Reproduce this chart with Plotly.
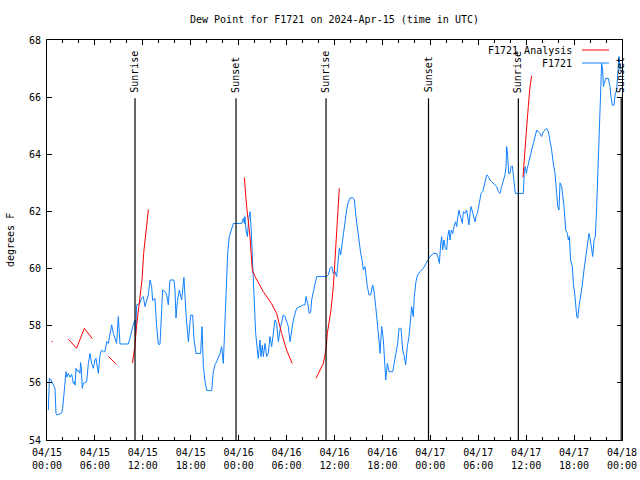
import pandas as pd
import plotly.graph_objects as go

BASE = pd.Timestamp("2024-04-15 00:00")

# Observed dew point (F1721): hours after 2024-04-15 00:00 UTC, degrees F
obs_hours = [0.17, 0.3, 0.5, 0.79, 1.0, 1.13, 1.21, 1.5, 1.84, 1.96, 2.13, 2.38, 2.5, 2.67, 2.88, 3.09, 3.3, 3.45,
             3.51, 3.63, 3.8, 3.92, 4.13, 4.21, 4.3, 4.42, 4.55, 4.97, 5.18, 5.38, 5.59, 5.8, 6.01, 6.13, 6.43, 6.64,
             6.84, 7.05, 7.26, 7.47, 7.68, 7.89, 8.1, 8.31, 8.52, 8.72, 8.93, 9.14, 9.6, 10.18, 10.39, 10.73, 11.02,
             11.1, 11.23, 11.64, 11.85, 12.06, 12.27, 12.48, 12.69, 12.9, 13.1, 13.23, 13.52, 13.73, 13.94, 14.15,
             14.36, 14.48, 14.78, 14.99, 15.19, 15.4, 15.9, 16.03, 16.15, 16.32, 16.57, 16.86, 17.15, 17.4, 17.7,
             17.99, 18.24, 18.41, 18.66, 19.24, 19.41, 19.58, 19.79, 20.0, 20.62, 20.83, 21.04, 21.25, 21.66, 21.87,
             22.08, 22.29, 22.5, 22.62, 22.83, 23.12, 23.33, 24.38, 24.58, 24.71, 24.79, 24.92, 25.09, 25.25, 25.42,
             25.55, 25.71, 25.84, 25.96, 26.13, 26.34, 26.46, 26.67, 26.8, 26.96, 27.09, 27.3, 27.51, 27.71, 27.92,
             28.13, 28.34, 28.55, 28.76, 28.97, 29.18, 29.38, 29.59, 29.8, 30.01, 30.22, 30.43, 30.64, 30.85, 31.06,
             31.26, 31.68, 32.1, 32.31, 32.43, 32.64, 32.85, 33.02, 33.14, 33.35, 33.56, 33.77, 35.02, 35.23, 35.44,
             35.65, 35.85, 36.06, 36.27, 36.48, 36.61, 36.77, 36.9, 37.1, 37.31, 37.52, 37.73, 37.94, 38.28, 38.49,
             38.69, 38.9, 39.11, 39.28, 39.49, 39.61, 39.82, 39.95, 40.11, 40.32, 40.53, 40.78, 40.95, 41.16, 41.36,
             41.57, 41.7, 41.91, 42.12, 42.24, 42.41, 42.62, 42.83, 43.29, 43.45, 43.7, 43.91, 44.08, 44.33, 44.54,
             44.75, 44.91, 45.12, 45.33, 45.54, 45.66, 45.87, 45.99, 46.2, 46.41, 46.71, 47.12, 47.46, 47.75, 47.96,
             48.38, 48.79, 49.0, 49.13, 49.3, 49.42, 49.54, 49.71, 49.88, 50.04, 50.17, 50.34, 50.46, 50.63, 50.8,
             50.96, 51.17, 51.3, 51.42, 51.59, 51.72, 51.84, 52.01, 52.13, 52.34, 52.55, 52.68, 52.84, 52.97, 53.09,
             53.22, 53.38, 53.59, 53.72, 53.89, 54.01, 54.22, 54.35, 54.56, 54.72, 54.89, 55.06, 55.26, 55.47, 55.68,
             55.89, 56.1, 56.31, 56.52, 56.72, 56.93, 57.14, 57.35, 57.48, 57.56, 57.68, 57.81, 57.98, 58.1, 58.27,
             58.39, 58.52, 58.64, 59.65, 59.77, 59.9, 60.02, 60.15, 60.31, 60.48, 60.69, 60.9, 61.11, 61.32, 61.52,
             61.73, 61.94, 62.15, 62.36, 62.57, 62.78, 62.99, 63.19, 63.4, 63.61, 63.82, 63.95, 64.11, 64.24, 64.45,
             64.57, 64.74, 64.95, 65.16, 65.28, 65.41, 65.57, 65.78, 65.91, 66.12, 66.33, 66.45, 66.62, 66.83, 67.03,
             67.24, 67.45, 67.66, 67.87, 68.04, 68.2, 68.33, 68.5, 68.66, 68.83, 69.04, 69.16, 69.33, 69.45, 69.58,
             69.66, 69.79, 69.95, 70.29, 70.5, 70.62, 70.79, 71.0, 71.13, 71.33, 71.46, 71.63, 71.75, 71.95]
obs_values = [55.05, 56.16, 56.1, 55.95, 55.81, 54.93, 54.88, 54.9, 54.95, 55.1, 55.69, 56.39, 56.2, 56.33, 56.2, 56.3,
              55.98, 56.04, 55.92, 56.51, 56.4, 56.45, 56.33, 56.71, 56.5, 55.81, 55.98, 56.04, 56.68, 57.03, 56.68,
              56.51, 56.8, 56.86, 56.33, 56.98, 57.15, 57.09, 57.09, 57.44, 57.38, 57.79, 58.03, 57.73, 57.56, 57.38,
              58.32, 57.36, 57.36, 57.36, 57.56, 57.97, 58.2, 57.7, 58.73, 58.78, 58.96, 59.02, 58.67, 58.9, 59.08,
              59.6, 59.37, 58.88, 58.96, 57.97, 57.35, 57.35, 58.79, 59.25, 59.19, 59.08, 58.73, 59.6, 59.6, 59.25,
              58.27, 58.84, 59.25, 58.9, 59.69, 58.43, 57.44, 58.37, 58.37, 57.5, 57.03, 57.03, 57.97, 56.57, 56.04,
              55.73, 55.73, 56.4, 56.63, 56.74, 57.03, 57.27, 56.68, 58.32, 59.42, 60.53, 61.12, 61.41, 61.58, 61.58,
              61.76, 61.58, 61.82, 61.35, 61.12, 61.7, 61.99, 61.47, 60.3, 59.48, 58.67, 57.73, 57.15, 56.86, 57.5,
              56.92, 57.32, 56.92, 57.38, 56.92, 57.03, 57.62, 57.27, 57.73, 58.2, 58.08, 57.44, 57.85, 58.08, 58.38,
              58.32, 58.14, 57.97, 57.44, 57.85, 58.2, 58.43, 58.61, 58.67, 58.73, 58.73, 59.02, 58.78, 58.43, 58.49,
              58.9, 59.19, 59.48, 59.72, 59.72, 59.78, 60.01, 60.07, 59.83, 59.89, 59.72, 60.42, 60.71, 60.48, 60.77,
              61.12, 61.64, 62.05, 62.34, 62.46, 62.49, 62.4, 61.82, 61.35, 60.71, 60.53, 60.24, 59.95, 60.07, 59.72,
              59.37, 59.08, 59.08, 59.43, 59.19, 58.67, 58.2, 57.5, 57.03, 57.97, 57.5, 57.03, 56.1, 56.68, 56.39,
              56.39, 56.68, 57.03, 57.38, 57.91, 57.91, 57.15, 56.92, 56.63, 57.27, 57.62, 58.2, 58.67, 58.32, 59.02,
              59.54, 59.78, 59.89, 60.01, 60.18, 60.3, 60.42, 60.53, 60.53, 60.36, 60.18, 60.88, 61.12, 60.65, 61.0,
              60.71, 60.65, 61.12, 61.35, 61.0, 61.35, 61.23, 61.47, 61.64, 61.47, 61.76, 62.05, 61.88, 61.7, 61.58,
              61.99, 61.93, 62.05, 61.82, 61.53, 61.93, 62.17, 62.05, 61.82, 61.64, 61.82, 61.93, 62.11, 62.4, 62.63,
              62.69, 62.87, 63.1, 63.28, 63.22, 63.1, 63.04, 62.98, 62.93, 62.87, 62.69, 62.63, 62.87, 63.1, 63.28,
              63.57, 64.27, 63.98, 63.33, 63.33, 63.57, 63.59, 63.33, 62.87, 62.63, 62.63, 63.45, 63.57, 63.33, 63.51,
              63.74, 63.98, 64.15, 64.38, 64.62, 64.85, 64.79, 64.73, 64.62, 64.79, 64.85, 64.91, 64.79, 64.5, 64.15,
              63.68, 63.33, 62.63, 62.17, 62.05, 63.0, 62.87, 62.63, 62.17, 61.35, 61.23, 61.0, 61.12, 60.3, 60.07,
              59.48, 59.02, 58.32, 58.26, 58.67, 59.02, 59.43, 59.95, 60.42, 60.88, 61.23, 61.0, 60.65, 60.42, 61.0,
              61.12, 62.17, 63.8, 65.43, 66.37, 67.18, 66.95, 66.37, 66.48, 66.66, 66.66, 66.37, 66.02, 65.72, 65.72,
              66.08, 66.25, 66.66, 67.42, 66.95, 66.9]

# Analysis segments (F1721 Analysis)
ana_hours = [[0.6, 0.72],
             [2.67, 3.7, 4.67, 5.67],
             [7.7, 8.7],
             [10.7, 11.0, 11.2, 11.6, 11.9, 12.1, 12.4, 12.7],
             [24.71, 25.0, 25.42, 25.71, 26.05, 27.09, 28.1, 28.76, 29.38, 30.0, 30.7],
             [33.68, 34.6, 34.94, 35.1, 35.56, 35.85, 36.06, 36.28, 36.48, 36.6],
             [59.6, 59.86, 60.07, 60.27, 60.48, 60.69]]
ana_values = [[57.47, 57.43],
              [57.53, 57.21, 57.91, 57.55],
              [56.92, 56.65],
              [56.7, 57.27, 57.97, 58.9, 59.6, 60.53, 61.23, 62.07],
              [63.19, 62.17, 61.12, 59.95, 59.72, 59.19, 58.78, 58.43, 57.73, 57.15, 56.68],
              [56.16, 56.68, 57.15, 57.73, 58.55, 59.37, 60.3, 61.47, 62.28, 62.81],
              [63.2, 64.03, 64.97, 65.67, 66.37, 66.75]]

# Sun events (hours after base)
sun_labels = ["Sunrise", "Sunset", "Sunrise", "Sunset", "Sunrise", "Sunset"]
sun_hours = [11.02, 23.67, 34.94, 47.77, 59.02, 71.9]

tick_hours = list(range(0, 73, 6))

def t(h):
    return BASE + pd.to_timedelta(h, unit="h")

FONT = "DejaVu Sans Mono"
BLUE = "#1080ff"
RED = "#ff0000"

ax_hours, ay = [], []
for hs, vs in zip(ana_hours, ana_values):
    ax_hours += [t(h) for h in hs] + [None]
    ay += vs + [None]

fig = go.Figure()
fig.add_trace(go.Scatter(x=[t(h) for h in obs_hours], y=obs_values, mode="lines",
                         line=dict(color=BLUE, width=1), name="F1721", showlegend=False))
fig.add_trace(go.Scatter(x=ax_hours, y=ay, mode="lines", connectgaps=False,
                         line=dict(color=RED, width=1), name="F1721 Analysis", showlegend=False))

for lab, h in zip(sun_labels, sun_hours):
    fig.add_shape(type="line", xref="x", yref="y", x0=t(h), x1=t(h), y0=54, y1=65.96,
                  line=dict(color="black", width=1.2))
    fig.add_annotation(x=t(h), y=66.08, xref="x", yref="y", text=lab, textangle=-90,
                       showarrow=False, xanchor="center", yanchor="bottom",
                       font=dict(family=FONT, size=10, color="black"))

# legend drawn manually (gnuplot style)
for txt, col, yy in [("F1721 Analysis", RED, 0.975), ("F1721", BLUE, 0.9425)]:
    fig.add_annotation(x=0.9165, y=yy, xref="paper", yref="paper", text=txt, showarrow=False,
                       xanchor="right", yanchor="middle", font=dict(family=FONT, size=10, color="black"))
    fig.add_shape(type="line", xref="paper", yref="paper", x0=0.9304, x1=0.9774, y0=yy, y1=yy,
                  line=dict(color=col, width=1))

fig.add_annotation(x=-0.0643, y=0.5, xref="paper", yref="paper", text="degrees F", textangle=-90,
                   showarrow=False, xanchor="center", yanchor="middle",
                   font=dict(family=FONT, size=10, color="black"))

fig.update_layout(
    width=640, height=480,
    margin=dict(l=47, r=18, t=40, b=40, autoexpand=False),
    paper_bgcolor="white", plot_bgcolor="white",
    font=dict(family=FONT, size=10, color="black"),
    title=dict(text="Dew Point for F1721 on 2024-Apr-15 (time in UTC)", x=0.5, xref="paper",
               y=1 - 19 / 480, yref="container", xanchor="center", yanchor="middle",
               font=dict(family=FONT, size=10, color="black")),
    showlegend=False,
)
fig.update_xaxes(range=[t(0), t(72)], showgrid=False, zeroline=False, showline=True, linecolor="black",
                 linewidth=1, mirror="ticks", ticks="inside", ticklen=5, tickcolor="black",
                 tickmode="array", tickvals=[t(h) for h in tick_hours],
                 ticktext=[t(h).strftime("%m/%d<br>%H:%M") for h in tick_hours],
                 ticklabelstandoff=3,
                 minor=dict(ticks="inside", ticklen=3, tickcolor="black", tick0=t(0), dtick=7200000),
                 tickfont=dict(family=FONT, size=10, color="black"))
fig.update_yaxes(range=[54, 68], dtick=2, showgrid=False, zeroline=False, showline=True, linecolor="black",
                 linewidth=1, mirror="ticks", ticks="inside", ticklen=5, tickcolor="black",
                 ticklabelstandoff=3,
                 tickfont=dict(family=FONT, size=10, color="black"))

fig.write_html("out.html", config={"displayModeBar": False},
               post_script="document.body.style.margin='0';")
